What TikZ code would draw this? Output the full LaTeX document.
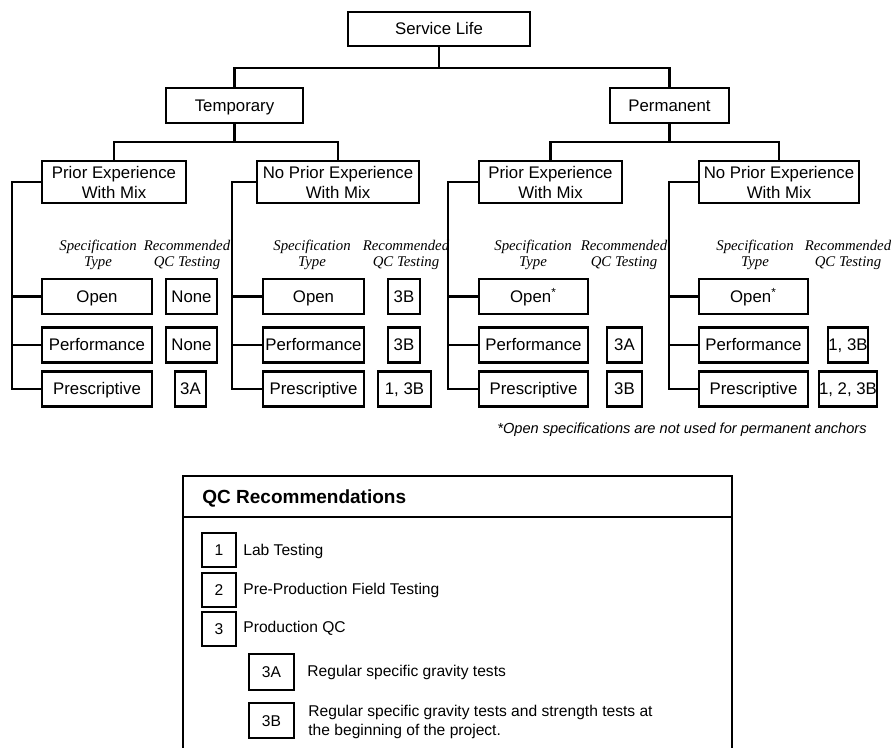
\documentclass[tikz,border=0pt]{standalone}
\usepackage{fontspec}
\setmainfont{Liberation Sans}
\newfontfamily\specfont{Liberation Serif}
\usetikzlibrary{calc}

\begin{document}
\begin{tikzpicture}[x=0.5pt,y=-0.5pt,
doboz/.style={rectangle,draw=black,line width=1.2pt,inner sep=0pt,align=center,font=\fontsize{8.4}{10}\selectfont},
egysor/.style={doboz,text height=7pt,text depth=1pt},
tipus/.style={egysor,minimum height=17.5pt},
fejlec/.style={align=center,inner sep=0pt,font=\specfont\itshape\fontsize{7.4}{8}\selectfont},
jelmagy/.style={rectangle,draw=black,line width=0.9pt,inner sep=0pt,minimum width=17pt,minimum height=17pt,text height=5.8pt,text depth=0pt,font=\fontsize{7.8}{9}\selectfont},
szoveg/.style={anchor=west,inner sep=0pt,align=left,font=\fontsize{7.8}{9.5}\selectfont}]
\useasboundingbox (0,0) rectangle (891,748);
% tree
\node[egysor,minimum width=91pt,minimum height=17pt] (service) at (439,29) {Service Life};
\node[egysor,minimum width=68.5pt,minimum height=17.5pt] (temp) at (234.5,105.5) {Temporary};
\node[egysor,minimum width=59.5pt,minimum height=17.5pt] (perm) at (669.5,105.5) {Permanent};
\node[doboz,minimum width=72pt,minimum height=21pt] (t-prior) at (114,182) {Prior Experience\\With Mix};
\node[doboz,minimum width=81pt,minimum height=21pt] (t-noprior) at (338,182) {No Prior Experience\\With Mix};
\node[doboz,minimum width=71.5pt,minimum height=21pt] (p-prior) at (550.5,182) {Prior Experience\\With Mix};
\node[doboz,minimum width=80pt,minimum height=21pt] (p-noprior) at (779,182) {No Prior Experience\\With Mix};
\coordinate (csatl0) at (439,68);
\coordinate (csatl1) at (234.5,142);
\coordinate (csatl2) at (669.5,142);
% column headers
\node[fejlec] (tp-spec) at (98,255) {Specification\\Type};
\node[fejlec] (tp-rec) at (187,255) {Recommended\\QC Testing};
\node[fejlec] (tn-spec) at (312,255) {Specification\\Type};
\node[fejlec] (tn-rec) at (406,255) {Recommended\\QC Testing};
\node[fejlec] (pp-spec) at (533,255) {Specification\\Type};
\node[fejlec] (pp-rec) at (624,255) {Recommended\\QC Testing};
\node[fejlec] (pn-spec) at (755,255) {Specification\\Type};
\node[fejlec] (pn-rec) at (848,255) {Recommended\\QC Testing};
% specification types
\node[tipus,minimum width=55pt] (tp-open) at (97,296.5) {Open};
\node[tipus,minimum width=55pt] (tp-perf) at (97,345) {Performance};
\node[tipus,minimum width=55pt] (tp-presc) at (97,389) {Prescriptive};
\node[tipus,minimum width=50.5pt] (tn-open) at (313.5,296.5) {Open};
\node[tipus,minimum width=50.5pt] (tn-perf) at (313.5,345) {Performance};
\node[tipus,minimum width=50.5pt] (tn-presc) at (313.5,389) {Prescriptive};
\node[tipus,minimum width=54.5pt] (pp-open) at (533.5,296.5) {Open\textsuperscript{*}};
\node[tipus,minimum width=54.5pt] (pp-perf) at (533.5,345) {Performance};
\node[tipus,minimum width=54.5pt] (pp-presc) at (533.5,389) {Prescriptive};
\node[tipus,minimum width=54.5pt] (pn-open) at (753.5,296.5) {Open\textsuperscript{*}};
\node[tipus,minimum width=54.5pt] (pn-perf) at (753.5,345) {Performance};
\node[tipus,minimum width=54.5pt] (pn-presc) at (753.5,389) {Prescriptive};
% recommended QC testing
\node[tipus,minimum width=25.5pt] (tp-open-qc) at (191.5,296.5) {None};
\node[tipus,minimum width=25.5pt] (tp-perf-qc) at (191.5,345) {None};
\node[tipus,minimum width=15.5pt] (tp-presc-qc) at (190.5,389) {3A};
\node[tipus,minimum width=16pt] (tn-open-qc) at (404,296.5) {3B};
\node[tipus,minimum width=16pt] (tn-perf-qc) at (404,345) {3B};
\node[tipus,minimum width=26.5pt] (tn-presc-qc) at (404.5,389) {1, 3B};
\node[tipus,minimum width=17.5pt] (pp-perf-qc) at (624.5,345) {3A};
\node[tipus,minimum width=17.5pt] (pp-presc-qc) at (624.5,389) {3B};
\node[tipus,minimum width=20pt] (pn-perf-qc) at (848,345) {1, 3B};
\node[tipus,minimum width=29pt] (pn-presc-qc) at (848,389) {1, 2, 3B};
\coordinate (csatl-tp) at (12,182);
\coordinate (csatl-tn) at (232,182);
\coordinate (csatl-pp) at (448,182);
\coordinate (csatl-pn) at (669,182);
\node[inner sep=0pt,font=\itshape\fontsize{7.3}{9}\selectfont] (megj) at (682,430) {*Open specifications are not used for permanent anchors};
\begin{scope}[line width=1.2pt]
 \draw (service) -- (csatl0);
 \draw (temp) |- (csatl0) -| (perm);
 \draw (temp) -- (csatl1);
 \draw (t-prior) |- (csatl1) -| (t-noprior);
 \draw (perm) -- (csatl2);
 \draw (p-prior) |- (csatl2) -| (p-noprior);
 \draw (t-prior) -- (csatl-tp) |- (tp-presc);
 \draw (csatl-tp |- tp-open) -- (tp-open);
 \draw (csatl-tp |- tp-perf) -- (tp-perf);
 \draw (t-noprior.west |- csatl-tn) -- (csatl-tn) |- (tn-presc);
 \draw (csatl-tn |- tn-open) -- (tn-open);
 \draw (csatl-tn |- tn-perf) -- (tn-perf);
 \draw (p-prior) -- (csatl-pp) |- (pp-presc);
 \draw (csatl-pp |- pp-open) -- (pp-open);
 \draw (csatl-pp |- pp-perf) -- (pp-perf);
 \draw (p-noprior) -- (csatl-pn) |- (pn-presc);
 \draw (csatl-pn |- pn-open) -- (pn-open);
 \draw (csatl-pn |- pn-perf) -- (pn-perf);
\end{scope}
% legend
\draw[line width=0.9pt] (183,748) -- (183,476) -- (732,476) -- (732,748);
\draw[line width=0.9pt] (183,517) -- (732,517);
\node[anchor=west,inner sep=0pt,font=\bfseries\fontsize{9.5}{11}\selectfont] (qc-title) at (202,498) {QC Recommendations};
\node[jelmagy] (qc1) at (219,550) {1};
\node[jelmagy] (qc2) at (219,590) {2};
\node[jelmagy] (qc3) at (219,629) {3};
\node[szoveg] (qc1-text) at (243,551) {Lab Testing};
\node[szoveg] (qc2-text) at (243,590) {Pre-Production Field Testing};
\node[szoveg] (qc3-text) at (243,628) {Production QC};
\node[jelmagy,minimum width=22.5pt,minimum height=18pt] (qc3a) at (271.5,672) {3A};
\node[jelmagy,minimum width=22.5pt,minimum height=17.5pt] (qc3b) at (271.5,720.5) {3B};
\node[szoveg] (qc3a-text) at (307,672) {Regular specific gravity tests};
\node[szoveg] (qc3b-text) at (308,722) {Regular specific gravity tests and strength tests at\\the beginning of the project.};
\end{tikzpicture}
\end{document}
